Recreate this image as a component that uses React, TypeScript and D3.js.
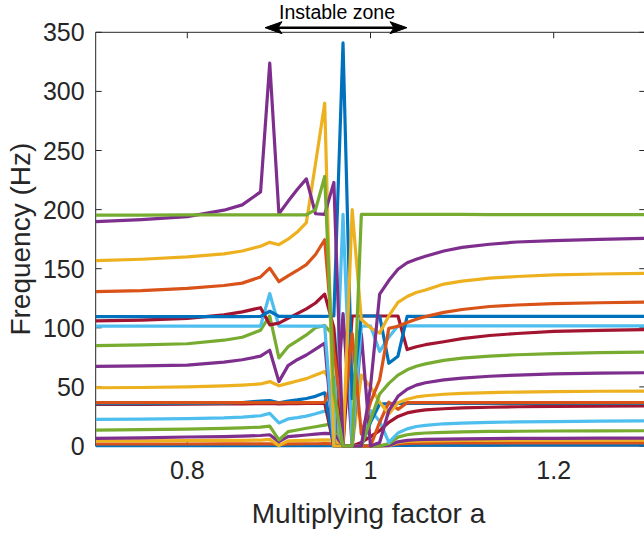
import React from 'react';
import * as d3 from 'd3';

const X = [0.70,0.75,0.80,0.84,0.86,0.88,0.89,0.90,0.91,0.92,0.93,0.94,0.95,0.96,0.97,0.98,0.99,1.00,1.01,1.02,1.03,1.04,1.05,1.06,1.08,1.10,1.13,1.16,1.20,1.25,1.30];

const m1 = [0.4,0.4,0.4,0.4,0.4,0.4,0.4,0.3,0.4,0.4,0.4,0.4,0.4,0.3,0.2,0.2,0.2,0.2,0.2,0.3,0.5,0.6,0.7,0.7,0.8,0.8,0.8,0.9,0.9,0.9,0.9];
const m2 = [1.7,1.7,1.7,1.8,1.8,1.8,1.9,1.2,1.8,1.8,1.9,1.9,2.0,1.8,0.5,0.3,0.3,0.3,0.3,0.8,1.8,2.2,2.4,2.5,2.6,2.6,2.7,2.7,2.7,2.7,2.7];
const m3 = [4.3,4.4,4.5,4.7,4.8,5.0,5.6,0.3,4.3,4.6,4.8,5.0,5.1,5.0,0.3,0.0,0.0,0.0,0.0,0.3,2.8,3.8,4.2,4.4,4.6,4.7,4.8,4.9,4.9,5.0,5.0];
const m4 = [6.5,6.9,7.6,7.9,8.3,8.9,9.5,3.7,7.9,8.6,9.3,10.0,10.7,10.5,0.5,0.0,0.0,0.0,0.0,0.5,3.5,4.8,5.3,5.6,5.9,6.1,6.3,6.4,6.5,6.6,6.6];
const m5 = [13.5,13.8,14.3,14.9,15.4,16.0,16.8,5.1,12.1,13.5,15.0,16.3,17.7,19.0,0.5,0.0,0.0,0.0,0.0,2.0,7.5,9.5,10.5,11.0,11.6,12.0,12.3,12.5,12.7,12.8,12.9];
const m6 = [22.6,22.8,23.2,23.8,24.5,25.6,27.6,19.5,22.9,24.0,25.3,27.3,29.5,32.0,0.0,0.0,0.0,30.0,21.0,3.0,11.0,14.5,16.5,17.5,18.8,19.4,20.0,20.4,20.7,21.0,21.2];
const m7 = [35.2,35.3,35.4,35.6,35.7,35.9,36.0,35.6,35.8,35.9,36.0,36.1,36.3,0.0,0.0,0.0,3.0,8.0,13.0,20.0,25.0,28.0,29.5,30.5,31.5,32.2,32.8,33.2,33.5,33.8,34.0];
const m8 = [35.8,35.9,36.0,36.3,36.8,38.0,38.5,36.5,38.0,39.0,40.2,42.0,45.0,0.0,0.0,0.0,0.0,20.0,35.5,35.8,36.0,36.0,36.0,36.0,36.0,36.0,36.0,36.0,36.0,36.0,36.0];
const m9 = [36.7,36.7,36.7,36.7,36.7,36.7,36.8,36.6,36.7,36.7,36.7,36.7,37.0,58.0,0.0,0.0,0.0,0.0,20.0,37.0,31.0,36.7,36.7,36.7,36.7,36.7,36.7,36.7,36.7,36.7,36.7];
const m10 = [49.3,49.5,50.0,50.8,51.5,52.5,54.5,51.0,53.0,55.0,57.0,60.0,63.0,48.0,0.0,0.0,60.0,50.0,37.0,27.0,36.5,39.5,41.5,42.5,43.8,44.5,45.2,45.6,46.0,46.3,46.5];
const m11 = [67.4,67.8,68.5,71.0,73.0,76.0,81.0,54.5,68.0,73.0,77.0,82.0,87.0,0.0,112.0,0.0,95.0,0.0,3.0,30.0,42.0,48.0,51.5,53.5,56.0,57.5,59.0,60.0,61.0,61.6,62.0];
const m12 = [84.9,85.5,86.5,89.5,92.0,98.0,110.0,74.5,84.0,89.0,94.0,100.0,102.0,93.0,0.0,0.0,0.0,22.0,44.0,53.0,60.0,64.5,67.5,69.5,72.5,74.3,76.0,77.2,78.2,79.0,79.5];
const m13 = [101.5,101.5,101.5,101.5,101.5,101.5,129.0,101.5,101.5,101.5,101.5,101.5,101.5,0.0,196.0,0.0,101.5,101.5,80.0,92.0,101.7,101.7,101.7,101.7,101.7,101.7,101.7,101.7,101.7,101.7,101.7];
const m14 = [105.8,106.5,108.0,111.0,113.5,117.0,102.5,104.0,108.0,112.0,116.0,121.0,128.5,100.0,0.0,110.0,110.0,110.0,110.0,110.0,110.0,81.6,84.0,85.7,88.2,90.8,93.5,95.2,96.9,97.8,98.5];
const m15 = [109.4,109.4,109.5,109.5,109.5,109.6,114.0,109.6,109.6,109.6,109.6,109.6,109.6,110.0,341.0,40.0,110.0,110.0,110.0,70.0,76.0,109.7,109.7,109.7,109.7,109.7,109.7,109.7,109.7,109.7,109.7];
const m16 = [130.6,131.5,133.3,135.8,137.8,143.0,150.5,139.0,144.0,148.5,153.5,162.0,174.5,80.0,20.0,95.0,10.0,37.0,56.0,99.5,101.3,104.5,107.3,109.5,113.0,115.5,118.0,119.3,120.5,121.2,121.8];
const m17 = [156.8,158.0,160.0,162.5,165.0,169.0,172.3,170.3,175.0,181.0,189.0,239.0,290.0,0.0,0.0,200.0,107.0,100.0,95.5,110.0,121.5,126.5,129.8,132.0,137.0,139.5,142.0,143.4,144.8,145.5,146.0];
const m18 = [189.8,191.5,194.0,199.5,204.0,215.0,324.0,196.5,207.0,217.0,226.0,196.5,196.0,223.0,0.0,0.0,0.0,50.0,128.5,140.0,149.5,155.0,158.0,160.5,165.0,168.0,170.7,172.6,173.8,174.8,175.6];
const m19 = [195.4,195.4,195.5,195.5,195.5,195.5,195.5,195.5,195.5,195.5,195.6,200.0,228.0,45.0,0.0,0.0,196.0,196.0,196.0,196.0,196.0,196.0,196.0,196.0,196.0,196.0,195.8,195.8,195.7,195.7,195.7];

const SERIES = [m1,m2,m3,m4,m5,m6,m7,m8,m9,m10,m11,m12,m13,m14,m15,m16,m17,m18,m19];
const COLORS = ['#0072BD','#D95319','#EDB120','#7E2F8E','#77AC30','#4DBEEE','#A2142F'];

const X_TICKS = [0.8, 1.0, 1.2];
const X_TICK_LABELS = ['0.8', '1', '1.2'];
const Y_TICKS = [0, 50, 100, 150, 200, 250, 300, 350];

const W = 644, H = 533;
const L = 95.7, R = 645.3, T = 32.3, B = 446;
const AX = '#262626';
const FONT = '"Liberation Sans", Arial, Helvetica, sans-serif';

export default function App() {
  const x = d3.scaleLinear().domain([0.7, 1.3]).range([L, R]);
  const y = d3.scaleLinear().domain([0, 350]).range([B, T]);
  const line = d3.line<number>().x((_, i) => x(X[i])).y(d => y(d));

  const arrowY = 27.7, ax1 = 265, ax2 = 407;
  const hl = 17, hw = 6, notch = 4;

  return (
    <svg width={W} height={H} style={{ position: 'absolute', left: 0, top: 0, background: '#fff' }}>
      <defs>
        <clipPath id="plotclip">
          <rect x={L} y={T - 2} width={R - L + 2} height={B - T + 5} />
        </clipPath>
      </defs>
      <rect x={0} y={0} width={W} height={H} fill="#fff" />
      <g stroke={AX} strokeWidth={1} fill="none">
        <line x1={L} y1={T} x2={R} y2={T} />
        <line x1={L} y1={B} x2={R} y2={B} />
        <line x1={L} y1={T} x2={L} y2={B} />
        <line x1={R} y1={T} x2={R} y2={B} />
        {Y_TICKS.map(t => (
          <g key={'yt' + t}>
            <line x1={L} y1={y(t)} x2={L + 6} y2={y(t)} />
            <line x1={R} y1={y(t)} x2={R - 6} y2={y(t)} />
          </g>
        ))}
        {X_TICKS.map(t => (
          <g key={'xt' + t}>
            <line x1={x(t)} y1={B} x2={x(t)} y2={B - 6} />
            <line x1={x(t)} y1={T} x2={x(t)} y2={T + 6} />
          </g>
        ))}
      </g>
      <g clipPath="url(#plotclip)" fill="none" strokeWidth={3.2} strokeLinejoin="round" strokeLinecap="butt">
        {SERIES.map((s, i) => (
          <path key={i} d={line(s) || ''} stroke={COLORS[i % 7]} />
        ))}
      </g>
      <g fill={AX} fontFamily={FONT} fontSize={25}>
        {Y_TICKS.map(t => (
          <text key={'yl' + t} x={L - 11} y={y(t) + 9} textAnchor="end">{t}</text>
        ))}
        {X_TICKS.map((t, i) => (
          <text key={'xl' + t} x={x(t)} y={B + 33} textAnchor="middle">{X_TICK_LABELS[i]}</text>
        ))}
      </g>
      <text x={(L + 645.3) / 2 - 2} y={523} textAnchor="middle" fontFamily={FONT} fontSize={28} fill={AX}>Multiplying factor a</text>
      <text transform={`translate(30,${(T + B) / 2}) rotate(-90)`} textAnchor="middle" fontFamily={FONT} fontSize={28} fill={AX}>Frequency (Hz)</text>
      <text x={(ax1 + ax2) / 2 + 1} y={19} textAnchor="middle" fontFamily={FONT} fontSize={19.5} fill="#000">Instable zone</text>
      <line x1={ax1 + 8} y1={arrowY} x2={ax2 - 8} y2={arrowY} stroke="#000" strokeWidth={2.5} />
      <path d={`M${ax1},${arrowY} L${ax1 + hl},${arrowY - hw} L${ax1 + hl - notch},${arrowY} L${ax1 + hl},${arrowY + hw} Z`} fill="#000" stroke="#000" strokeWidth={1} strokeLinejoin="miter" />
      <path d={`M${ax2},${arrowY} L${ax2 - hl},${arrowY - hw} L${ax2 - hl + notch},${arrowY} L${ax2 - hl},${arrowY + hw} Z`} fill="#000" stroke="#000" strokeWidth={1} strokeLinejoin="miter" />
    </svg>
  );
}
